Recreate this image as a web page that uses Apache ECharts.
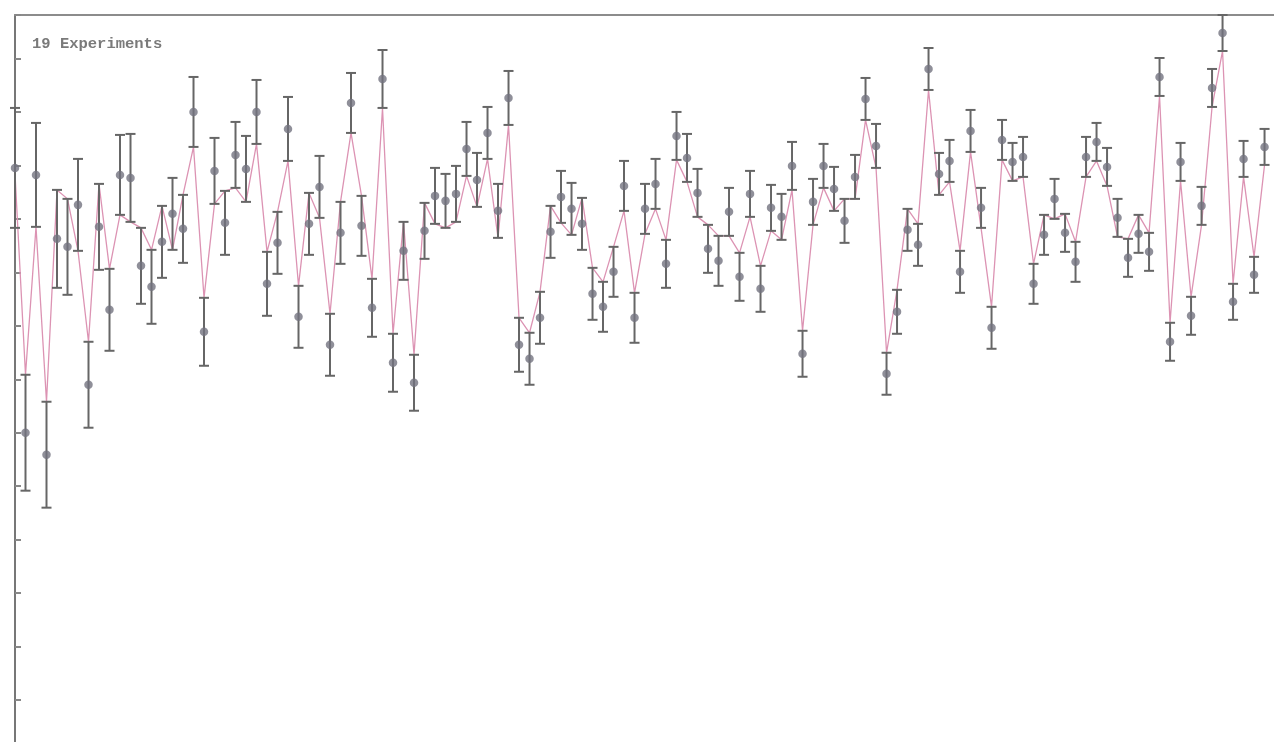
<!DOCTYPE html>
<html>
<head>
<meta charset="utf-8">
<title>19 Experiments</title>
<script src="https://cdn.jsdelivr.net/npm/echarts@6/dist/echarts.min.js"></script>
<style>
  * { margin: 0; padding: 0; }
  html, body { background: #fff; }
  #main { width: 1274px; height: 742px; }
</style>
</head>
<body>
<!-- container for the chart -->
<div id="main"></div>
<script>
  // run number of every experiment
  var runs = [];
  for (var k = 1; k <= 120; k++) runs.push(k);

  // measured value (grey dots)
  var measured = [
    586, 321, 579, 299, 515, 507, 549, 369, 527, 444,
    579, 576, 488, 467, 512, 540, 525, 642, 422, 583,
    531, 599, 585, 642, 470, 511, 625, 437, 530, 567,
    409, 521, 651, 528, 446, 675, 391, 503, 371, 523,
    558, 553, 560, 605, 574, 621, 543, 656, 409, 395,
    436, 522, 557, 545, 530, 460, 447, 482, 568, 436,
    545, 570, 490, 618, 596, 561, 505, 493, 542, 477,
    560, 465, 546, 537, 588, 400, 552, 588, 565, 533,
    577, 655, 608, 380, 442, 524, 509, 685, 580, 593,
    482, 623, 546, 426, 614, 592, 597, 470, 519, 555,
    521, 492, 597, 612, 587, 536, 496, 520, 502, 677,
    412, 592, 438, 548, 666, 721, 452, 595, 479, 607
  ];

  // half width of the error bar
  var errors = [
    60, 58, 52, 53, 49, 48, 46, 43, 43, 41,
    40, 44, 38, 37, 36, 36, 34, 35, 34, 33,
    32, 33, 33, 32, 32, 31, 32, 31, 31, 31,
    31, 31, 30, 30, 29, 29, 29, 29, 28, 28,
    28, 27, 28, 27, 27, 26, 27, 27, 27, 26,
    26, 26, 26, 26, 26, 26, 25, 25, 25, 25,
    25, 25, 24, 24, 24, 24, 24, 25, 24, 24,
    23, 23, 23, 23, 24, 23, 23, 22, 22, 22,
    22, 21, 22, 21, 22, 21, 21, 21, 21, 21,
    21, 21, 20, 21, 20, 19, 20, 20, 20, 20,
    19, 20, 20, 19, 19, 19, 19, 19, 19, 19,
    19, 19, 19, 19, 19, 18, 18, 18, 18, 18
  ];

  // fitted curve (pink line)
  var fitted = [
    580, 379, 527, 352, 564, 555, 503, 412, 570, 485,
    539, 532, 526, 504, 548, 504, 559, 607, 456, 550,
    563, 566, 552, 610, 502, 542, 593, 468, 561, 536,
    440, 552, 621, 558, 475, 646, 420, 532, 399, 551,
    530, 526, 532, 578, 547, 595, 516, 629, 436, 421,
    462, 548, 531, 519, 556, 486, 472, 507, 543, 461,
    520, 545, 514, 594, 572, 537, 529, 518, 518, 501,
    537, 488, 523, 514, 564, 423, 529, 566, 543, 555,
    555, 634, 586, 401, 464, 545, 530, 664, 559, 572,
    503, 602, 526, 447, 594, 573, 577, 490, 539, 535,
    540, 512, 577, 593, 568, 517, 515, 539, 521, 658,
    431, 573, 457, 529, 647, 703, 470, 577, 497, 589
  ];

  var pointData = [], barData = [], fitData = [];
  for (var i = 0; i < runs.length; i++) {
    pointData.push([runs[i], measured[i]]);
    barData.push([runs[i], measured[i] - errors[i], measured[i] + errors[i]]);
    fitData.push([runs[i], fitted[i]]);
  }

  var chart = echarts.init(document.getElementById('main'));
  chart.setOption({
    animation: false,
    backgroundColor: '#fff',
    grid: {
      left: 15,
      right: 0,
      top: 15,
      bottom: -11.5,
      outerBoundsMode: 'none'
    },
    graphic: [{
      type: 'text',
      left: 32,
      top: 36,
      style: {
        text: '19 Experiments',
        fill: '#7a7a7a',
        font: 'bold 15.5px "Liberation Mono", monospace'
      }
    }],
    xAxis: {
      type: 'value',
      position: 'top',
      min: 1,
      max: 120.9,
      splitLine: { show: false },
      axisTick: { show: false },
      axisLabel: { show: false },
      axisLine: { show: true, onZero: false, lineStyle: { color: '#8c8c8c', width: 2 } }
    },
    yAxis: {
      type: 'value',
      min: 0,
      max: 739,
      interval: 53.5,
      splitLine: { show: false },
      axisLabel: { show: false },
      axisLine: { show: true, onZero: false, lineStyle: { color: '#777', width: 2 } },
      axisTick: { show: true, inside: true, length: 6, lineStyle: { color: '#888', width: 2 } }
    },
    series: [
      {
        name: 'fit',
        type: 'line',
        data: fitData,
        symbol: 'none',
        lineStyle: { color: '#dc93b3', width: 1.3 },
        z: 2
      },
      {
        name: 'error',
        type: 'custom',
        data: barData,
        z: 3,
        renderItem: function (params, api) {
          var lo = api.coord([api.value(0), api.value(1)]);
          var hi = api.coord([api.value(0), api.value(2)]);
          var w = 5;
          var style = { stroke: '#666', lineWidth: 2 };
          return {
            type: 'group',
            children: [
              { type: 'line', shape: { x1: lo[0], y1: lo[1], x2: hi[0], y2: hi[1] }, style: style },
              { type: 'line', shape: { x1: lo[0] - w, y1: lo[1], x2: lo[0] + w, y2: lo[1] }, style: style },
              { type: 'line', shape: { x1: hi[0] - w, y1: hi[1], x2: hi[0] + w, y2: hi[1] }, style: style }
            ]
          };
        }
      },
      {
        name: 'measured',
        type: 'scatter',
        data: pointData,
        symbolSize: 8.5,
        itemStyle: { color: '#737380' },
        z: 4
      }
    ]
  });
</script>
</body>
</html>
